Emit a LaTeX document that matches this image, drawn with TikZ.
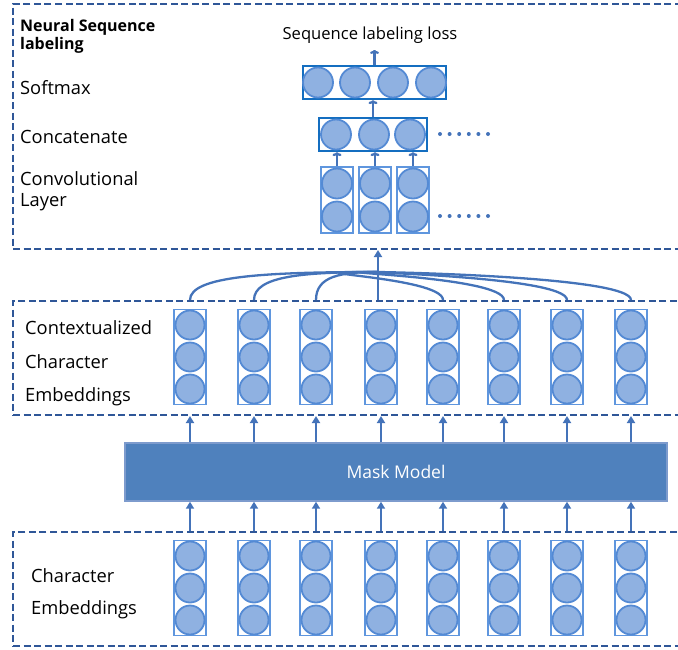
\documentclass[tikz,border=0pt]{standalone}
\usepackage{fontspec}
\setmainfont{Open Sans}
\usetikzlibrary{arrows.meta,positioning}
\definecolor{nsdash}{RGB}{47,87,152}
\definecolor{nsfill}{RGB}{143,177,225}
\definecolor{nsring}{RGB}{84,138,212}
\definecolor{nscol}{RGB}{95,150,222}
\definecolor{nsrow}{RGB}{20,110,192}
\definecolor{nsmask}{RGB}{79,129,189}
\definecolor{nsmaskline}{RGB}{125,155,205}
\definecolor{nsarrow}{RGB}{68,115,185}

\tikzset{
  dashbox/.style={draw=nsdash,line width=2pt,dash pattern=on 7pt off 3.5pt,
                  anchor=north west,minimum width=700pt,inner sep=0pt},
  unit/.style={circle,draw=nsring,fill=nsfill,line width=1.8pt,
               minimum size=29pt,inner sep=0pt},
  colbox/.style={draw=nscol,line width=1.6pt,minimum width=32pt,inner sep=0pt},
  rowbox/.style={draw=nsrow,line width=2.2pt,minimum height=33pt,inner sep=0pt},
  bigup/.style={draw=nsarrow,line width=2.8pt,-{Triangle[width=8pt,length=7pt]}},
  smallup/.style={draw=nsarrow,line width=2.3pt,-{To[length=4pt,width=9pt]}},
  link/.style={draw=nsarrow,line width=2.3pt},
  lbl/.style={anchor=base west,inner sep=0pt,font=\fontsize{18.3}{20}\selectfont},
}

\begin{document}
\begin{tikzpicture}[x=1pt,y=-1pt]
  \clip (0,0) rectangle (678,649);

  % dashed frames
  \node[dashbox,minimum height=245pt] (topbox) at (12,3) {};
  \node[dashbox,minimum height=114pt] (midbox) at (12,300) {};
  \node[dashbox,minimum height=114pt] (botbox) at (12,531) {};

  % labels
  \node[lbl,font=\fontsize{16}{17}\selectfont\bfseries] (title1) at (20,31) {Neural Sequence};
  \node[lbl,font=\fontsize{16}{17}\selectfont\bfseries] (title2) at (20,49) {labeling};
  \node[lbl] (softlbl) at (20,94) {Softmax};
  \node[lbl] (catlbl) at (20,143) {Concatenate};
  \node[lbl] (convlbl1) at (20,185) {Convolutional};
  \node[lbl] (convlbl2) at (20,206) {Layer};
  \node[lbl] (ctxlbl1) at (25,334) {Contextualized};
  \node[lbl] (ctxlbl2) at (25,368) {Character};
  \node[lbl] (ctxlbl3) at (25,401) {Embeddings};
  \node[lbl] (emblbl1) at (31,582) {Character};
  \node[lbl] (emblbl2) at (31,614) {Embeddings};

  % softmax layer
  \node[rowbox,minimum width=143pt] (soft) at (374.5,82.5) {};
  \foreach \x [count=\i] in {318,355,393,431}
    \node[unit,minimum size=30pt] (s\i) at (\x,82.5) {};
  \node[anchor=base,inner sep=0pt,font=\fontsize{16.6}{18}\selectfont] (loss) at (370,39) {Sequence labeling loss};
  \draw[smallup] (soft.north) -- ++(0,-15);

  % concatenate layer
  \node[rowbox,minimum width=108pt] (concat) at (373,134.5) {};
  \foreach \x [count=\i] in {336,374,410}
    \node[unit,minimum size=30pt] (m\i) at (\x,134.5) {};
  \draw[smallup] (concat.north) -- (concat.north |- soft.south);

  % convolutional layer
  \foreach \x [count=\i] in {337,375,413} {
    \node[colbox,minimum height=66pt] (k\i) at (\x,200) {};
    \node[unit,minimum size=30pt] (k\i a) at (\x,183.5) {};
    \node[unit,minimum size=30pt] (k\i b) at (\x,216.5) {};
    \draw[smallup] (k\i.north) -- (k\i.north |- concat.south);
  }
  \foreach \y in {134,216}
    \foreach \d in {0,...,5}
      \fill[nsarrow] (440+\d*9.6,\y) circle (2pt);

  % mask model
  \node[draw=nsmaskline,fill=nsmask,line width=1.4pt,minimum width=542pt,
        minimum height=58pt,inner sep=0pt,text=white,
        font=\fontsize{17.5}{19}\selectfont] (mask) at (396,472) {Mask Model};

  % character columns
  \foreach \x [count=\i] in {190,254,316,381,443,504,567,631} {
    \node[colbox,minimum height=95pt] (c\i) at (\x,357) {};
    \foreach \r [count=\j] in {325,357,389}
      \node[unit] (c\i-\j) at (\x,\r) {};
    \node[colbox,minimum height=95pt] (e\i) at (\x,588) {};
    \foreach \r [count=\j] in {556,588,620}
      \node[unit] (e\i-\j) at (\x,\r) {};
    \draw[bigup] (e\i |- botbox.north) -- (e\i |- mask.south);
    \draw[bigup] (c\i |- mask.north) -- (c\i |- midbox.south);
  }

  % pooling curves into the labeler
  \coordinate (join) at (378,272);
  \foreach \i in {1,2,3} {
    \draw[link] (c\i.north |- midbox.north) .. controls +(0,-24) and +({-0.6*(378-\i*63-127)},0) .. (join);
  }
  \foreach \i in {5,6,7,8} {
    \draw[link] (c\i.north |- midbox.north) .. controls +(0,-24) and +({0.6*(\i*63-127-378)},0) .. (join);
  }
  \draw[bigup] (join |- midbox.north) -- (join |- topbox.south);
\end{tikzpicture}
\end{document}
